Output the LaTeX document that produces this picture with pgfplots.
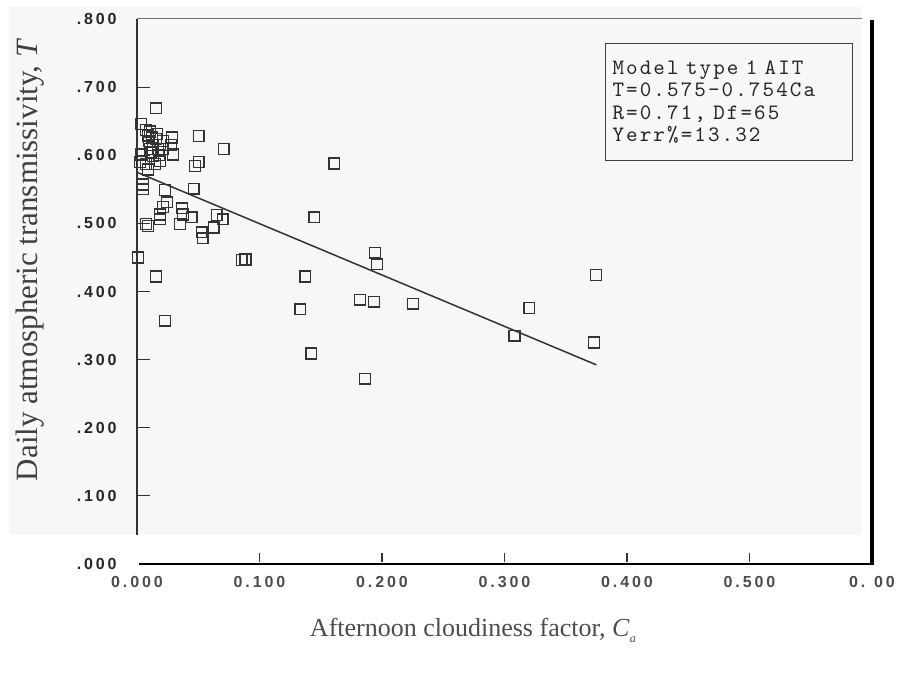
\documentclass[border=0pt]{standalone}
\usepackage{pgfplots}
\pgfplotsset{compat=1.18}
\usepackage{pgfplotstable}
\usepackage{fontspec}
\setmainfont{Liberation Serif}
\newfontfamily\tickfont[LetterSpace=18]{Liberation Sans}
\newfontfamily\boxfont[LetterSpace=9.5]{Latin Modern Mono}

\pgfplotstableread{
c T
0.0154 0.669
0.0033 0.646
0.0073 0.637
0.0089 0.629
0.0106 0.635
0.0122 0.626
0.0098 0.621
0.0130 0.615
0.0106 0.609
0.0285 0.626
0.0211 0.621
0.0276 0.615
0.0293 0.601
0.0114 0.604
0.0033 0.601
0.0130 0.599
0.0024 0.590
0.0073 0.587
0.0146 0.587
0.0187 0.591
0.0089 0.579
0.0154 0.624
0.0170 0.609
0.0163 0.631
0.0179 0.600
0.0210 0.609
0.0504 0.628
0.0707 0.609
0.0504 0.590
0.0472 0.584
0.1610 0.588
0.0049 0.557
0.0049 0.550
0.0228 0.549
0.0463 0.551
0.0244 0.531
0.0211 0.524
0.0187 0.513
0.0187 0.506
0.0366 0.522
0.0374 0.513
0.0350 0.499
0.0073 0.499
0.0089 0.496
0.0447 0.509
0.0528 0.487
0.0537 0.478
0.0626 0.494
0.0650 0.512
0.0699 0.506
0.0008 0.450
0.0154 0.422
0.0228 0.357
0.0854 0.446
0.0886 0.447
0.1447 0.509
0.1374 0.422
0.1333 0.374
0.1423 0.309
0.1943 0.457
0.1959 0.440
0.1821 0.388
0.1935 0.385
0.1862 0.272
0.2252 0.382
0.3081 0.335
0.3203 0.376
0.3748 0.424
0.3732 0.325
}\datatable

\begin{document}
\begin{tikzpicture}
\fill[black!3] (-64pt,14.5pt) rectangle (362.5pt,278.5pt);
\begin{axis}[
  scale only axis, width=367.5pt, height=272.5pt,
  xmin=0, xmax=0.6, ymin=0, ymax=0.8,
  axis line style={draw=none},
  clip=false,
  major tick length=0pt,
  xtick={0,0.1,0.2,0.3,0.4,0.5,0.6},
  xticklabels={0.000,0.100,0.200,0.300,0.400,0.500,{0.\phantom{6}00}},
  ytick={0,0.1,0.2,0.3,0.4,0.5,0.6,0.7,0.8},
  yticklabels={.000,.100,.200,.300,.400,.500,.600,.700,.800},
  xticklabel style={anchor=north, inner sep=0pt, yshift=-6pt, text=black!70,
    font=\tickfont\bfseries\fontsize{8}{9}\selectfont},
  yticklabel style={anchor=east, inner sep=0pt, xshift=-10pt, text=black!85,
    font=\tickfont\bfseries\fontsize{8}{9}\selectfont},
]
% frame lines
\draw[black!80, line width=0.8pt] (rel axis cs:0,1) -- (rel axis cs:0,0.0532);
\draw[black, line width=1.1pt] (rel axis cs:0.003,0) -- (rel axis cs:1,0);
\draw[black, line width=1.6pt] (rel axis cs:1,-0.002) -- (rel axis cs:1,0.998);
\draw[black!55, line width=0.5pt] (rel axis cs:0,1) -- (rel axis cs:0.986,1);
% tick marks
\draw[black!80, line width=0.6pt] (axis cs:0,0.1) -- ([xshift=6.5pt]axis cs:0,0.1);
\draw[black!80, line width=0.6pt] (axis cs:0,0.2) -- ([xshift=6.5pt]axis cs:0,0.2);
\draw[black!80, line width=0.6pt] (axis cs:0,0.3) -- ([xshift=6.5pt]axis cs:0,0.3);
\draw[black!80, line width=0.6pt] (axis cs:0,0.4) -- ([xshift=6.5pt]axis cs:0,0.4);
\draw[black!80, line width=0.6pt] (axis cs:0,0.5) -- ([xshift=6.5pt]axis cs:0,0.5);
\draw[black!80, line width=0.6pt] (axis cs:0,0.6) -- ([xshift=6.5pt]axis cs:0,0.6);
\draw[black!80, line width=0.6pt] (axis cs:0,0.7) -- ([xshift=6.5pt]axis cs:0,0.7);
\draw[black!80, line width=0.9pt] ([yshift=1pt]axis cs:0.1,0) -- ([yshift=5.5pt]axis cs:0.1,0);
\draw[black!80, line width=0.9pt] ([yshift=1pt]axis cs:0.2,0) -- ([yshift=5.5pt]axis cs:0.2,0);
\draw[black!80, line width=0.9pt] ([yshift=1pt]axis cs:0.3,0) -- ([yshift=5.5pt]axis cs:0.3,0);
\draw[black!80, line width=0.9pt] ([yshift=1pt]axis cs:0.4,0) -- ([yshift=5.5pt]axis cs:0.4,0);
\draw[black!80, line width=0.9pt] ([yshift=1pt]axis cs:0.5,0) -- ([yshift=5.5pt]axis cs:0.5,0);
% data
\addplot[only marks, mark=square, mark size=2.7pt,
  mark options={draw=black!80, line width=0.7pt}] table[x=c,y=T]{\datatable};
\addplot[black!80, line width=0.75pt] coordinates {(0,0.575) (0.375,0.2923)};
% model box
\node[draw=black!75, line width=0.6pt, anchor=north west, minimum width=123.5pt,
  minimum height=58.5pt, inner xsep=3.5pt, align=left, text width=116.5pt,
  text=black!85, font=\boxfont\fontsize{11}{11.2}\selectfont]
  at (rel axis cs:0.6367,0.956)
  {Model type 1 AIT\\T=0.575-0.754Ca\\R=0.71, Df=65\\Yerr\%=13.32};
% axis labels
\node[rotate=90, text=black!75, font=\fontsize{15.5}{18}\selectfont]
  at (rel axis cs:-0.1456,0.558) {Daily atmospheric transmissivity, \textit{T}};
\node[text=black!70, font=\fontsize{13}{15}\selectfont]
  at (rel axis cs:0.457,-0.121) {Afternoon cloudiness factor, \textit{C}\raisebox{-0.5ex}{\fontsize{6}{7}\selectfont\itshape a}};
\end{axis}
\pgfresetboundingbox
\path[use as bounding box] (-68.5pt,-55pt) rectangle (381pt,282pt);
\end{tikzpicture}
\end{document}
